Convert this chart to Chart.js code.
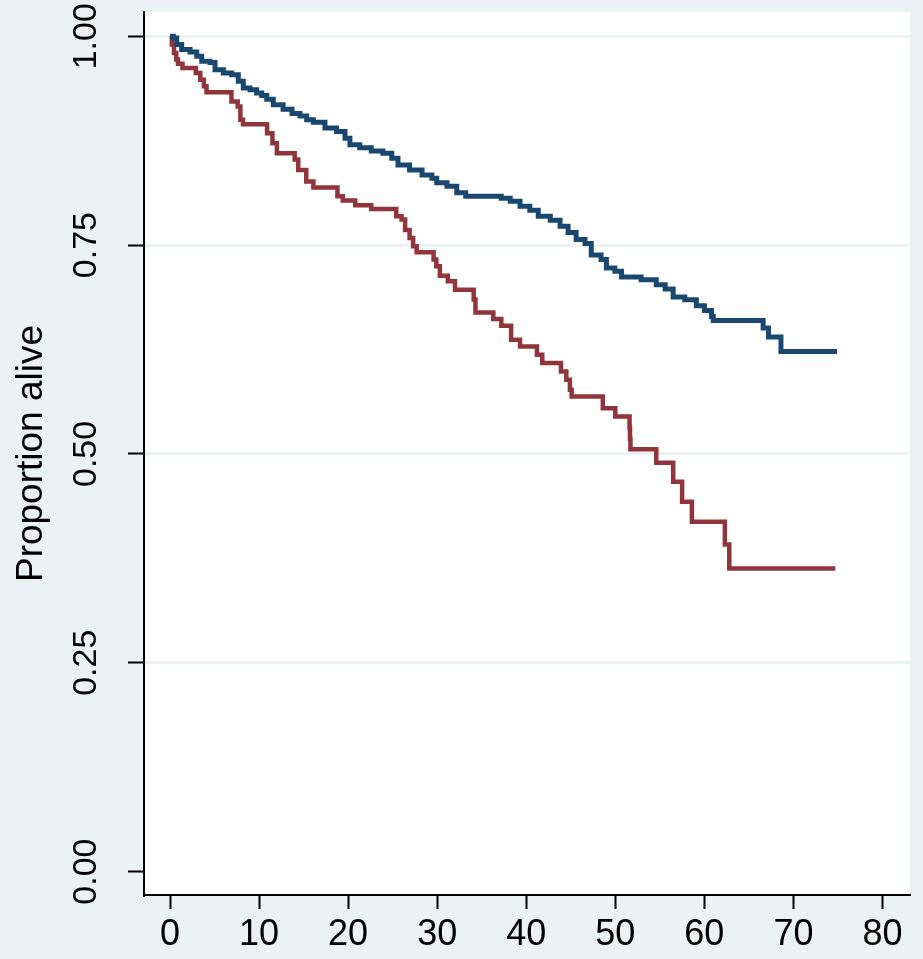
<!DOCTYPE html>
<html><head><meta charset="utf-8">
<script src="https://cdn.jsdelivr.net/npm/chart.js@4.4.1/dist/chart.umd.min.js"></script>
<style>
html,body{margin:0;padding:0;background:#EAF2F3;}
#wrap{width:923px;height:959px;position:relative;overflow:hidden;}
canvas{display:block;}
</style></head><body>
<div id="wrap"><canvas id="c" width="923" height="959" style="width:923px;height:959px"></canvas></div>
<script>
// ---- data ----
const blueTimes = [0,0.37,0.75,1.31,2.25,3.0,3.56,4.49,5.05,5.99,6.93,7.67,8.23,8.98,9.73,10.3,10.86,11.6,12.7,13.7,14.6,15.35,16.1,17.4,18.7,19.65,20.2,21.3,22.6,23.9,24.9,25.6,26.9,28.3,29.4,29.95,31.1,32.2,33.2,37.2,38.2,39.3,40.4,41.35,42.7,43.8,44.7,45.6,46.6,47.3,48.4,49.0,49.95,50.7,52.9,54.6,55.6,56.5,57.8,59.1,60.0,60.8,61.0,66.6,67.2,68.6,74.9];
const blueSurv = [1,0.998,0.990,0.984,0.981,0.976,0.970,0.9685,0.960,0.956,0.954,0.946,0.938,0.936,0.932,0.929,0.9245,0.918,0.9125,0.9075,0.9045,0.900,0.897,0.890,0.886,0.878,0.870,0.8665,0.8625,0.860,0.854,0.846,0.840,0.834,0.830,0.8245,0.8205,0.8125,0.8085,0.806,0.8025,0.7966,0.7918,0.7846,0.7798,0.7726,0.765,0.7566,0.7518,0.738,0.7326,0.7226,0.7186,0.7118,0.7086,0.7026,0.6973,0.6878,0.6846,0.6775,0.6718,0.6646,0.6598,0.6506,0.640,0.6227,0.6227];
const redTimes = [0,0.2,0.45,0.7,0.9,1.4,2.9,3.4,3.8,4.1,6.9,7.6,7.9,8.2,10.9,11.5,12.0,14.0,14.4,15.3,16.1,18.8,19.4,20.8,22.6,25.4,26.0,26.4,26.9,27.3,27.7,29.6,29.9,30.3,31.2,32.0,34.1,34.3,36.3,37.2,38.3,39.3,41.2,41.8,43.9,44.5,44.9,45.1,48.6,50.0,51.6,51.65,51.7,54.6,56.5,57.5,58.6,62.3,62.8,74.7];
const redSurv = [1,0.990,0.980,0.972,0.967,0.962,0.956,0.948,0.940,0.933,0.922,0.916,0.900,0.8945,0.884,0.872,0.860,0.8525,0.840,0.826,0.819,0.8085,0.8033,0.7977,0.7933,0.7846,0.7806,0.768,0.7586,0.7486,0.7414,0.7326,0.7246,0.7134,0.7066,0.6966,0.6847,0.6694,0.6614,0.6535,0.6367,0.6287,0.6187,0.6087,0.5987,0.5887,0.5767,0.5687,0.5547,0.5447,0.531,0.518,0.5056,0.4895,0.4668,0.4428,0.4189,0.3917,0.3629,0.3629];
const xTicks = [0,10,20,30,40,50,60,70,80];
const yTicks = [0,0.25,0.5,0.75,1];
const yTitle = 'Proportion alive';

const toPts = (xs, ys) => xs.map((x, i) => ({x: x, y: ys[i]}));

const plotBg = {
  id: 'plotBg',
  beforeDraw(chart) {
    const {ctx, chartArea: {left, top, right, bottom}} = chart;
    ctx.save();
    ctx.fillStyle = '#ffffff';
    ctx.fillRect(left, top, right - left, bottom - top);
    ctx.restore();
  }
};

const FONT = '"Liberation Sans", Arial, Helvetica, sans-serif';

new Chart(document.getElementById('c'), {
  type: 'line',
  data: {
    datasets: [
      {data: toPts(blueTimes, blueSurv), borderColor: '#1A476F', borderWidth: 5, stepped: true, pointRadius: 0, fill: false},
      {data: toPts(redTimes, redSurv), borderColor: '#90353B', borderWidth: 4.5, stepped: true, pointRadius: 0, fill: false}
    ]
  },
  options: {
    responsive: false,
    devicePixelRatio: 1,
    animation: false,
    layout: {padding: {top: 12, right: 13, left: 0, bottom: 0}},
    plugins: {legend: {display: false}, tooltip: {enabled: false}, title: {display: false}},
    scales: {
      x: {
        type: 'linear',
        min: -2.92,
        max: 83.09,
        afterBuildTicks: s => { s.ticks = xTicks.map(v => ({value: v})); },
        afterFit: s => { s.height = 64; s.paddingLeft = 0; s.paddingRight = 0; },
        grid: {drawOnChartArea: false, drawTicks: true, tickLength: 14, tickColor: '#000', tickWidth: 2},
        border: {display: true, color: '#000', width: 2},
        ticks: {color: '#000', font: {family: FONT, size: 36}, padding: 4, maxRotation: 0, minRotation: 0, autoSkip: false,
                callback: v => String(v)}
      },
      y: {
        type: 'linear',
        min: -0.028,
        max: 1.029,
        afterBuildTicks: s => { s.ticks = yTicks.map(v => ({value: v})); },
        afterFit: s => { s.width = 144; s.paddingTop = 0; s.paddingBottom = 0; },
        grid: {
          drawOnChartArea: true, drawTicks: true, tickLength: 16, tickWidth: 2,
          tickColor: '#000',
          color: ctx => (ctx.tick && ctx.tick.value === 0) ? 'rgba(0,0,0,0)' : '#EAF2F3',
          lineWidth: 3
        },
        border: {display: true, color: '#000', width: 2},
        title: {display: true, text: yTitle, color: '#000', font: {family: FONT, size: 37}, padding: {top: 10, bottom: 0}},
        ticks: {color: '#000', font: {family: FONT, size: 34}, padding: 8, minRotation: 90, maxRotation: 90,
                crossAlign: 'center', autoSkip: false,
                callback: v => Number(v).toFixed(2)}
      }
    }
  },
  plugins: [plotBg]
});
</script>
</body></html>
